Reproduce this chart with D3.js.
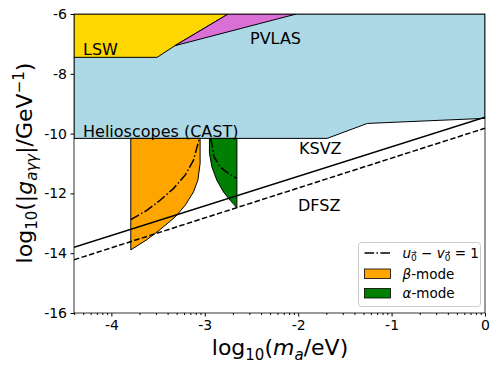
<!DOCTYPE html>
<html>
<head>
<meta charset="utf-8">
<script src="https://cdn.jsdelivr.net/npm/d3@7"></script>
<style>
  body { margin: 0; background: #fff; }
  text { font-family: "DejaVu Sans", sans-serif; }
</style>
</head>
<body>
<div id="chart"></div>
<script>
// excluded regions (log10 m_a, log10 g)
var helioX = [-4.4, 0, 0, -1.26, -1.69, -4.4]
var helioY = [-6, -6, -9.49, -9.66, -10.16, -10.16]
var lswX = [-4.4, -2.75, -3.32, -3.51, -4.4]
var lswY = [-6, -6, -7.06, -7.45, -7.45]
var pvlasX = [-3.32, -2.75, -2.02]
var pvlasY = [-7.06, -6, -6]

// beta / alpha mode regions
var betaX = [-3.792, -3.05, -3.05, -3.074, -3.121, -3.21, -3.318, -3.478, -3.621, -3.792]
var betaY = [-10.16, -10.16, -11.0, -11.56, -11.95, -12.40, -12.79, -13.21, -13.55, -13.89]
var alphaX = [-2.95, -2.656, -2.656, -2.728, -2.80, -2.871, -2.924, -2.95, -2.95]
var alphaY = [-10.16, -10.16, -12.48, -12.23, -11.95, -11.56, -11.11, -10.66, -10.16]

// u - v = 1 curves
var betaCurveX = [-3.792, -3.621, -3.478, -3.336, -3.21, -3.121, -3.068, -3.06]
var betaCurveY = [-12.88, -12.57, -12.23, -11.84, -11.39, -10.89, -10.28, -10.16]
var alphaCurveX = [-2.94, -2.935, -2.9, -2.836, -2.746, -2.656]
var alphaCurveY = [-10.16, -10.18, -10.78, -11.11, -11.34, -11.50]

// QCD axion lines
var ksvzX = [-4.4, 0]
var ksvzY = [-13.80, -9.45]
var dfszX = [-4.4, 0]
var dfszY = [-14.22, -9.82]

var xTicks = [-4, -3, -2, -1, 0]
var yTicks = [-6, -8, -10, -12, -14, -16]

var width = 498, height = 372
var margin = {left: 74, right: 13, top: 14, bottom: 59}

var svg = d3.select("#chart").append("svg")
  .attr("width", width).attr("height", height)

var x = d3.scaleLinear().domain([-4.4, 0]).range([margin.left, width - margin.right])
var y = d3.scaleLinear().domain([-16, -6]).range([height - margin.bottom, margin.top])

svg.append("clipPath").attr("id", "clip").append("rect")
  .attr("x", x(-4.4)).attr("y", y(-6))
  .attr("width", x(0) - x(-4.4)).attr("height", y(-16) - y(-6))

var plot = svg.append("g").attr("clip-path", "url(#clip)")

function pts(xs, ys) { return xs.map(function(v, i) { return [x(v), y(ys[i])] }) }
var line = d3.line()

function region(xs, ys, fill) {
  plot.append("path")
    .attr("d", line(pts(xs, ys)) + "Z")
    .attr("fill", fill).attr("stroke", "black").attr("stroke-width", 1)
}
region(helioX, helioY, "#add8e6")
region(lswX, lswY, "#ffd700")
region(pvlasX, pvlasY, "#da70d6")
region(betaX, betaY, "#ffa500")
region(alphaX, alphaY, "#008000")

function curve(xs, ys, dash) {
  plot.append("path")
    .attr("d", line(pts(xs, ys)))
    .attr("fill", "none").attr("stroke", "black").attr("stroke-width", 1.5)
    .attr("stroke-dasharray", dash)
}
curve(ksvzX, ksvzY, null)
curve(dfszX, dfszY, "5.5,2.4")
curve(betaCurveX, betaCurveY, "9.6,2.4,1.5,2.4")
curve(alphaCurveX, alphaCurveY, "9.6,2.4,1.5,2.4")

// region labels
var labels = [
  {t: "LSW", x: 83, y: 55},
  {t: "PVLAS", x: 250, y: 44},
  {t: "Helioscopes (CAST)", x: 83, y: 137},
  {t: "KSVZ", x: 299, y: 154},
  {t: "DFSZ", x: 298, y: 211}
]
svg.selectAll("text.lab").data(labels).enter().append("text")
  .attr("class", "lab")
  .attr("x", function(d) { return d.x }).attr("y", function(d) { return d.y })
  .style("font-size", "16px").text(function(d) { return d.t })

// axes
var minor = []
for (var d = -5; d < 0; d++) {
  for (var k = 2; k < 10; k++) {
    var v = d + Math.log10(k)
    if (v >= -4.4 && v <= 0) minor.push(v)
  }
}
svg.append("g").attr("transform", "translate(0," + y(-16) + ")")
  .call(d3.axisBottom(x).tickValues(minor).tickSize(2).tickFormat(""))
  .call(function(g) { g.select(".domain").remove(); g.selectAll("text").remove() })
var xa = svg.append("g").attr("transform", "translate(0," + y(-16) + ")")
  .call(d3.axisBottom(x).tickValues(xTicks).tickSize(3.5).tickPadding(3.5).tickFormat(function(d) { return String(d) }))
var ya = svg.append("g").attr("transform", "translate(" + x(-4.4) + ",0)")
  .call(d3.axisLeft(y).tickValues(yTicks).tickSize(3.5).tickPadding(3.5).tickFormat(function(d) { return String(d) }))
svg.selectAll(".tick text").style("font-size", "14px").attr("fill", "black")
svg.selectAll(".domain").remove()

svg.append("rect")
  .attr("x", x(-4.4)).attr("y", y(-6))
  .attr("width", x(0) - x(-4.4)).attr("height", y(-16) - y(-6))
  .attr("fill", "none").attr("stroke", "black").attr("stroke-width", 0.8)

// axis titles
var xt = svg.append("text").attr("x", 280).attr("y", 355)
  .attr("text-anchor", "middle").style("font-size", "22px")
xt.append("tspan").text("log")
xt.append("tspan").attr("dy", 5).style("font-size", "15px").text("10")
xt.append("tspan").attr("dy", -5).text("(")
xt.append("tspan").style("font-style", "italic").text("m")
xt.append("tspan").attr("dy", 5).style("font-size", "15px").style("font-style", "italic").text("a")
xt.append("tspan").attr("dy", -5).text("/eV)")

var yt = svg.append("text").attr("transform", "translate(32,163) rotate(-90)")
  .attr("text-anchor", "middle").style("font-size", "22px")
yt.append("tspan").text("log")
yt.append("tspan").attr("dy", 5).style("font-size", "15px").text("10")
yt.append("tspan").attr("dy", -5).text("(|")
yt.append("tspan").style("font-style", "italic").text("g")
yt.append("tspan").attr("dy", 5).style("font-size", "15px").style("font-style", "italic").text("aγγ")
yt.append("tspan").attr("dy", -5).text("|/GeV")
yt.append("tspan").attr("dy", -8).style("font-size", "15px").text("−1")
yt.append("tspan").attr("dy", 8).text(")")

// legend
var lg = svg.append("g").attr("transform", "translate(358.5,242.5)")
lg.append("rect").attr("width", 122).attr("height", 64).attr("rx", 3)
  .attr("fill", "white").attr("fill-opacity", 0.8).attr("stroke", "#ccc")
lg.append("line").attr("x1", 6).attr("x2", 33).attr("y1", 10.5).attr("y2", 10.5)
  .attr("stroke", "black").attr("stroke-width", 1.5).attr("stroke-dasharray", "9.6,2.4,1.5,2.4")
var lt = lg.append("text").attr("x", 44).attr("y", 15).style("font-size", "13.5px")
lt.append("tspan").style("font-style", "italic").text("u")
lt.append("tspan").attr("dy", 3).style("font-size", "9px").text("0")
lt.append("tspan").attr("dy", -3).text(" − ")
lt.append("tspan").style("font-style", "italic").text("v")
lt.append("tspan").attr("dy", 3).style("font-size", "9px").text("0")
lt.append("tspan").attr("dy", -3).text(" = 1")
// vector arrows over the subscripts
;[1, 6].forEach(function(i) {
  var ext = lt.node().getExtentOfChar(i)
  var ax0 = 44 + (ext.x - 44) + 0.5, ax1 = ext.x + ext.width - 0.5, ay = 15 + 3 - 8
  lg.append("path")
    .attr("d", "M" + ax0 + "," + ay + "H" + ax1 + "M" + (ax1 - 2) + "," + (ay - 1.5) + "L" + ax1 + "," + ay + "L" + (ax1 - 2) + "," + (ay + 1.5))
    .attr("fill", "none").attr("stroke", "black").attr("stroke-width", 0.7)
})
var patches = [{c: "#ffa500", g: "β", y: 26.5}, {c: "#008000", g: "α", y: 46}]
patches.forEach(function(p) {
  lg.append("rect").attr("x", 6).attr("y", p.y).attr("width", 26).attr("height", 9.5)
    .attr("fill", p.c).attr("stroke", "black").attr("stroke-width", 0.8)
  var t = lg.append("text").attr("x", 44).attr("y", p.y + 9.5).style("font-size", "13.5px")
  t.append("tspan").style("font-style", "italic").text(p.g)
  t.append("tspan").text("-mode")
})
</script>
</body>
</html>
